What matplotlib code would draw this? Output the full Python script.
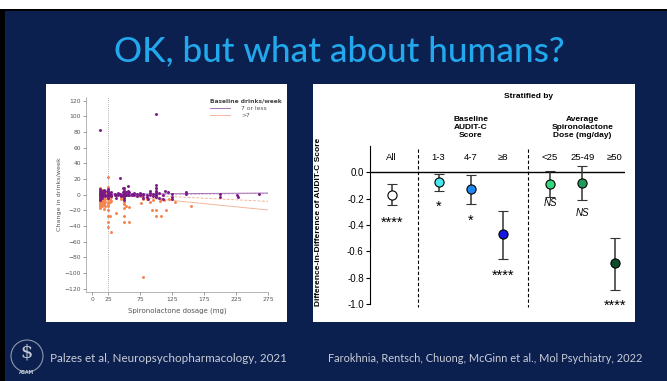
import numpy as np
import matplotlib
matplotlib.use('Agg')
import matplotlib.pyplot as plt
from matplotlib.patches import Rectangle, Ellipse

# left panel: change in drinks/week vs spironolactone dose
le7_points = [
    (12.5, 83), (12.5, 7), (12.5, 4), (12.5, 2), (12.5, 0), (12.5, -1), (12.5, -3), (12.5, -5), (12.5, -7),
    (15, 5), (15, 2), (15, 0), (15, -2), (15, -4),
    (18, 6), (18, 3), (18, 1), (18, -1),
    (20, 4), (20, 0), (20, -2),
    (25, 7), (25, 5), (25, 3), (25, 1), (25, 0), (25, -1), (25, -2), (25, -4),
    (28, 2), (28, -1), (30, 3), (30, 0), (30, -2),
    (35, 1), (35, -1), (38, 0), (38, -4), (40, 2), (40, -1),
    (43, 21), (43, 1), (45, 0), (45, -2),
    (48, 8), (48, 3), (48, -1),
    (50, 8), (50, 5), (50, 2), (50, 0), (50, -2), (50, -4), (50, -7),
    (53, 3), (53, 0), (53, -1),
    (56, 11), (56, 4), (56, 1), (56, -1),
    (58, 3), (58, 0), (62, 1), (62, -1), (65, 2), (65, 0), (70, 1), (70, -2),
    (75, 2), (75, 0), (75, -1), (80, 1), (80, -1), (80, -4), (85, 0), (85, -3), (88, -5),
    (90, 5), (90, 2), (90, 0), (95, 1), (95, -2),
    (100, 103), (100, 12), (100, 9), (100, 5), (100, 3), (100, 1), (100, 0), (100, -1), (100, -3),
    (105, 2), (105, -4), (110, 0), (110, -6), (114, 4), (119, 3), (124, 1), (125, -3), (125, -6),
    (146, 3), (147, 1),
    (200, 1), (200, -3), (226, -1), (228, -3), (260, 1),
]
gt7_points = [
    (12.5, 8), (12.5, 5), (12.5, 3), (12.5, 1), (12.5, 0), (12.5, -2), (12.5, -4), (12.5, -5), (12.5, -7),
    (12.5, -9), (12.5, -11), (12.5, -13), (12.5, -15), (12.5, -17),
    (15, 6), (15, 2), (15, -1), (15, -3), (15, -6), (15, -8), (15, -10), (15, -12), (15, -14),
    (18, 4), (18, 0), (18, -3), (18, -5), (18, -8), (18, -12), (18, -19),
    (20, 2), (20, -2), (20, -6), (20, -10), (20, -14),
    (25, 23), (25, 10), (25, 6), (25, 3), (25, 0), (25, -3), (25, -6), (25, -9), (25, -12), (25, -15),
    (25, -20), (25, -27), (25, -35), (25, -42),
    (28, -27), (28, -5), (28, -10), (30, -48), (30, -8), (30, -3),
    (38, -23), (45, -6), (45, -3),
    (50, 6), (50, 3), (50, 0), (50, -3), (50, -6), (50, -9), (50, -12), (50, -17), (50, -27), (50, -35),
    (53, -14), (58, -35), (58, -16),
    (77, -11), (77, -2), (80, -105), (80, -5), (85, -6),
    (90, -9), (93, -20), (95, -7),
    (100, 8), (100, 5), (100, 2), (100, 0), (100, -3), (100, -20), (100, -27),
    (106, -8), (108, -27), (108, -6), (112, -7), (116, -20), (120, -6), (130, -9), (155, -15),
]
fit_dose = [12.5, 275]
le7_fit = [0.5, 2.0]
le7_fit_ci = [-1.0, 1.5]
gt7_fit_hi = [2.0, -8.7]
gt7_fit_lo = [1.7, -19.7]
x_ticks = [0, 25, 75, 125, 175, 225, 275]
y_ticks = list(range(-120, 121, 20))

# right panel: difference-in-difference of AUDIT-C score
groups = ['All', '1-3', '4-7', '≥8', '<25', '25-49', '≥50']
estimate = [-0.17, -0.07, -0.13, -0.47, -0.09, -0.08, -0.69]
ci_low = [-0.25, -0.14, -0.24, -0.66, -0.19, -0.21, -0.89]
ci_high = [-0.09, -0.01, -0.02, -0.29, 0.01, 0.05, -0.50]
sig = ['****', '*', '*', '****', 'NS', 'NS', '****']
point_colors = ['white', '#4ae6ef', '#1f86f0', '#1616e2', '#34d680', '#1f9a58', '#0e4c2c']

W, H = 667, 381
navy = '#0c2050'


def box(x0, y0, x1, y1):
    return [x0 / W, 1 - y1 / H, (x1 - x0) / W, (y1 - y0) / H]


fig = plt.figure(figsize=(W / 100, H / 100), dpi=100, facecolor=navy)

# slide frame
for (x0, y0, x1, y1, c) in [(0, 0, 667, 9, 'white'), (0, 9, 667, 11, 'black'), (0, 9, 5, 381, 'black'),
                            (46, 84, 287, 322, 'white'), (313, 84, 635, 322, 'white')]:
    b = box(x0, y0, x1, y1)
    fig.patches.append(Rectangle((b[0], b[1]), b[2], b[3], transform=fig.transFigure,
                                 facecolor=c, edgecolor='none', zorder=-5))

fig.text(339 / W, 1 - 61 / H, 'OK, but what about humans?', family='Lato', fontsize=25.2,
         fontweight='medium', color='#22a8ec', ha='center', va='baseline')

foot = '#c9cdd8'
fig.text(50 / W, 1 - 358 / H, 'Palzes et al, Neuropsychopharmacology, 2021', family='Lato',
         fontsize=8.4, color=foot, va='center')
fig.text(328 / W, 1 - 358 / H, 'Farokhnia, Rentsch, Chuong, McGinn et al., Mol Psychiatry, 2022',
         family='Lato', fontsize=7.95, color=foot, va='center')
# ASAM logo
fig.patches.append(Ellipse((27 / W, 1 - 356 / H), 32 / W, 32 / H, transform=fig.transFigure,
                           facecolor='none', edgecolor='#8e97ad', lw=0.8))
fig.text(27 / W, 1 - 353 / H, '$', family='DejaVu Serif', fontsize=14,
         color='#c3c8d4', ha='center', va='center')
fig.text(27 / W, 1 - 373 / H, 'ASAM', family='DejaVu Sans', fontsize=3.3, fontweight='bold',
         color='#c3c8d4', ha='center', va='center')

# ---- left scatter ----
ax1 = fig.add_axes(box(85.7, 96.7, 268.3, 291.7))
le7 = np.array(le7_points, dtype=float)
gt7 = np.array(gt7_points, dtype=float)
ax1.axvline(25, color='#999999', ls=(0, (1, 1.5)), lw=0.6, zorder=1)
ax1.plot(fit_dose, gt7_fit_hi, color='#f3b79d', lw=0.7, ls=(0, (3, 1.5)), zorder=1)
ax1.plot(fit_dose, gt7_fit_lo, color='#f3b79d', lw=0.7, zorder=1)
ax1.plot(fit_dose, le7_fit_ci, color='#c9a3d3', lw=0.6, ls=(0, (3, 1.5)), zorder=1)
ax1.plot(fit_dose, le7_fit, color='#a673b6', lw=0.7, zorder=1, label='7 or less')
ax1.plot([], [], color='#f3b79d', lw=0.7, label='>7')
ax1.scatter(gt7[:, 0], gt7[:, 1], s=4.5, marker='o', color='#f5834c', lw=0, zorder=2)
ax1.scatter(le7[:, 0], le7[:, 1], s=4.5, marker='o', color='#7a1888', lw=0, zorder=3)
ax1.set_xlim(-10, 275)
ax1.set_ylim(-124, 125)
ax1.set_xticks(x_ticks)
ax1.set_yticks(y_ticks)
ax1.tick_params(labelsize=4.3, colors='#555555', length=2, width=0.4, pad=1.5)
for s in ['top', 'right']:
    ax1.spines[s].set_visible(False)
for s in ['left', 'bottom']:
    ax1.spines[s].set_color('#999999')
    ax1.spines[s].set_linewidth(0.5)
ax1.set_xlabel('Spironolactone dosage (mg)', fontsize=5, color='#555555', labelpad=4)
ax1.set_ylabel('Change in drinks/week', fontsize=4.6, color='#555555', labelpad=2)
ax1.set_facecolor('white')
leg = ax1.legend(loc='upper left', bbox_to_anchor=(0.66, 1.01), frameon=False, fontsize=4.3,
                 title='Baseline drinks/week', title_fontsize=4.3, alignment='left',
                 handlelength=3.2, handletextpad=2.0, labelspacing=0.3, borderpad=0.2)
for t in leg.get_texts():
    t.set_color('#555555')
leg.get_title().set_color('#444444')
leg.get_title().set_fontweight('bold')

# ---- right forest-style plot ----
ax2 = fig.add_axes(box(370, 146, 625, 308))
pos = [0, 1.45, 2.45, 3.45, 4.9, 5.9, 6.9]
sig_y = [-0.41, -0.29, -0.395, -0.815, -0.235, -0.31, -1.045]
ax2.set_xlim(-0.67, 7.22)
ax2.set_ylim(-1.03, 0.2)
ax2.axhline(0, color='black', lw=1.0, zorder=1)
for xs in [0.8, 4.22]:
    ax2.plot([xs, xs], [0.18, -1.02], color='black', lw=0.8, ls=(0, (3, 2)), clip_on=False)
for i in range(len(groups)):
    ax2.errorbar(pos[i], estimate[i], yerr=[[estimate[i] - ci_low[i]], [ci_high[i] - estimate[i]]],
                 fmt='o', ms=6.6, mfc=point_colors[i], mec='black', mew=0.8, ecolor='#333333',
                 elinewidth=1.1, capsize=3.6, capthick=1.1, zorder=3)
    ax2.text(pos[i], 0.115, groups[i], ha='center', va='center', fontsize=6.8,
             family='Liberation Sans', clip_on=False)
    if sig[i] == 'NS':
        ax2.text(pos[i], sig_y[i], sig[i], ha='center', va='center', fontsize=7, style='italic',
                 family='Liberation Sans', clip_on=False)
    else:
        ax2.text(pos[i], sig_y[i], sig[i], ha='center', va='baseline', fontsize=10.5,
                 family='Liberation Sans', clip_on=False)
ax2.text(2.45, 0.342, 'Baseline\nAUDIT-C\nScore', ha='center', va='center', fontsize=6,
         fontweight='bold', family='Liberation Sans', linespacing=1.15, clip_on=False)
ax2.text(5.9, 0.342, 'Average\nSpironolactone\nDose (mg/day)', ha='center', va='center', fontsize=6,
         fontweight='bold', family='Liberation Sans', linespacing=1.15, clip_on=False)
ax2.text(4.22, 0.574, 'Stratified by', ha='center', va='center', fontsize=6, fontweight='bold',
         family='Liberation Sans', clip_on=False)
ax2.set_yticks([0, -0.2, -0.4, -0.6, -0.8, -1.0])
ax2.set_yticklabels(['0.0', '-0.2', '-0.4', '-0.6', '-0.8', '-1.0'], family='Liberation Sans')
ax2.set_xticks([])
ax2.tick_params(axis='y', labelsize=7, length=3, width=0.8, pad=1.5)
for s in ['top', 'right', 'bottom']:
    ax2.spines[s].set_visible(False)
ax2.spines['left'].set_bounds(-1.0, 0.2)
ax2.spines['left'].set_linewidth(0.8)
ax2.patch.set_alpha(0)
fig.text(318 / W, 1 - 222 / H, 'Difference-in-Difference of AUDIT-C Score', rotation=90,
         ha='center', va='center', fontsize=6, fontweight='bold', family='Liberation Sans')

fig.savefig('out.png', dpi=100, facecolor=navy)
